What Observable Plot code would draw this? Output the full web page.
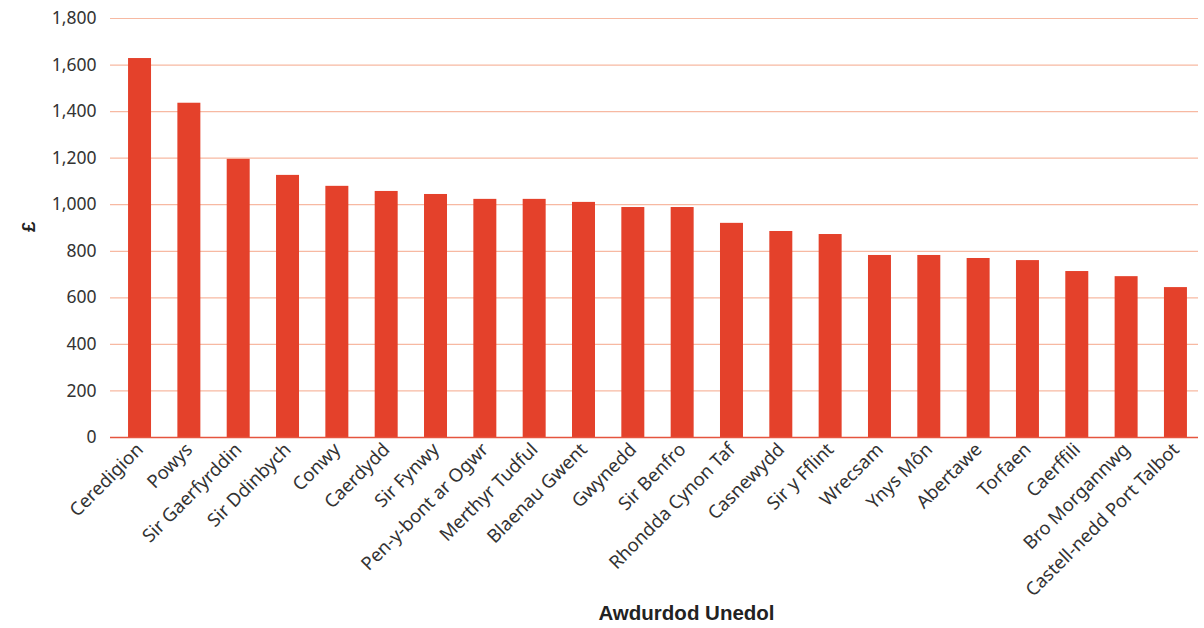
<!DOCTYPE html>
<html>
<head>
<meta charset="utf-8">
<script src="https://cdn.jsdelivr.net/npm/d3@7"></script>
<script src="https://cdn.jsdelivr.net/npm/@observablehq/plot@0.6"></script>
<style>
  html, body { margin: 0; padding: 0; background: #fff; }
  #chart svg { display: block; }
</style>
</head>
<body>
<div id="chart"></div>
<script>
const categories = [
  "Ceredigion", "Powys", "Sir Gaerfyrddin", "Sir Ddinbych", "Conwy", "Caerdydd",
  "Sir Fynwy", "Pen-y-bont ar Ogwr", "Merthyr Tudful", "Blaenau Gwent", "Gwynedd",
  "Sir Benfro", "Rhondda Cynon Taf", "Casnewydd", "Sir y Fflint", "Wrecsam",
  "Ynys Môn", "Abertawe", "Torfaen", "Caerffili", "Bro Morgannwg", "Castell-nedd Port Talbot"
];
const values = [
  1628, 1436, 1195, 1126, 1079, 1057,
  1044, 1023, 1023, 1010, 988,
  988, 920, 885, 872, 782,
  782, 769, 760, 713, 691, 644
];
const yTicks = [0, 200, 400, 600, 800, 1000, 1200, 1400, 1600, 1800];
const xTitle = "Awdurdod Unedol";
const yTitle = "£";

const data = categories.map((c, i) => ({ name: c, value: values[i] }));

const chart = Plot.plot({
  width: 1204,
  height: 628,
  marginLeft: 110,
  marginRight: 6,
  marginTop: 18,
  marginBottom: 191,
  style: { fontFamily: "'Noto Sans', sans-serif", fontSize: "17px", color: "#333", background: "#fff" },
  x: { domain: categories, paddingInner: 0.534, paddingOuter: 0.295, align: 0.62, round: false, label: null },
  y: { domain: [0, 1800], label: null },
  marks: [
    Plot.gridY(yTicks, { stroke: "#f7b9a2", strokeOpacity: 1, strokeWidth: 1.2 }),
    Plot.barY(data, { x: "name", y: "value", fill: "#e4412b" }),
    Plot.ruleY([0], { stroke: "#e5553f", strokeWidth: 1.5 }),
    Plot.axisY({ ticks: yTicks, tickFormat: d3.format(","), tickSize: 0, tickPadding: 14, label: null, fontSize: 17.5, fill: "#333" }),
    Plot.axisX({ tickRotate: -45, tickSize: 0, tickPadding: 9, label: null, fontSize: 18.5, fill: "#333" }),
    Plot.text([yTitle], { frameAnchor: "left", dx: -82, dy: 4, rotate: -90, fontWeight: "bold", fontSize: 19, fill: "#222", fontFamily: "'Liberation Sans', Arial, sans-serif" }),
    Plot.text([xTitle], { frameAnchor: "bottom", dx: 32, dy: 182, fontWeight: "bold", fontSize: 20.5, fill: "#222", fontFamily: "'Liberation Sans', Arial, sans-serif" })
  ]
});
document.getElementById("chart").appendChild(chart);
</script>
</body>
</html>
